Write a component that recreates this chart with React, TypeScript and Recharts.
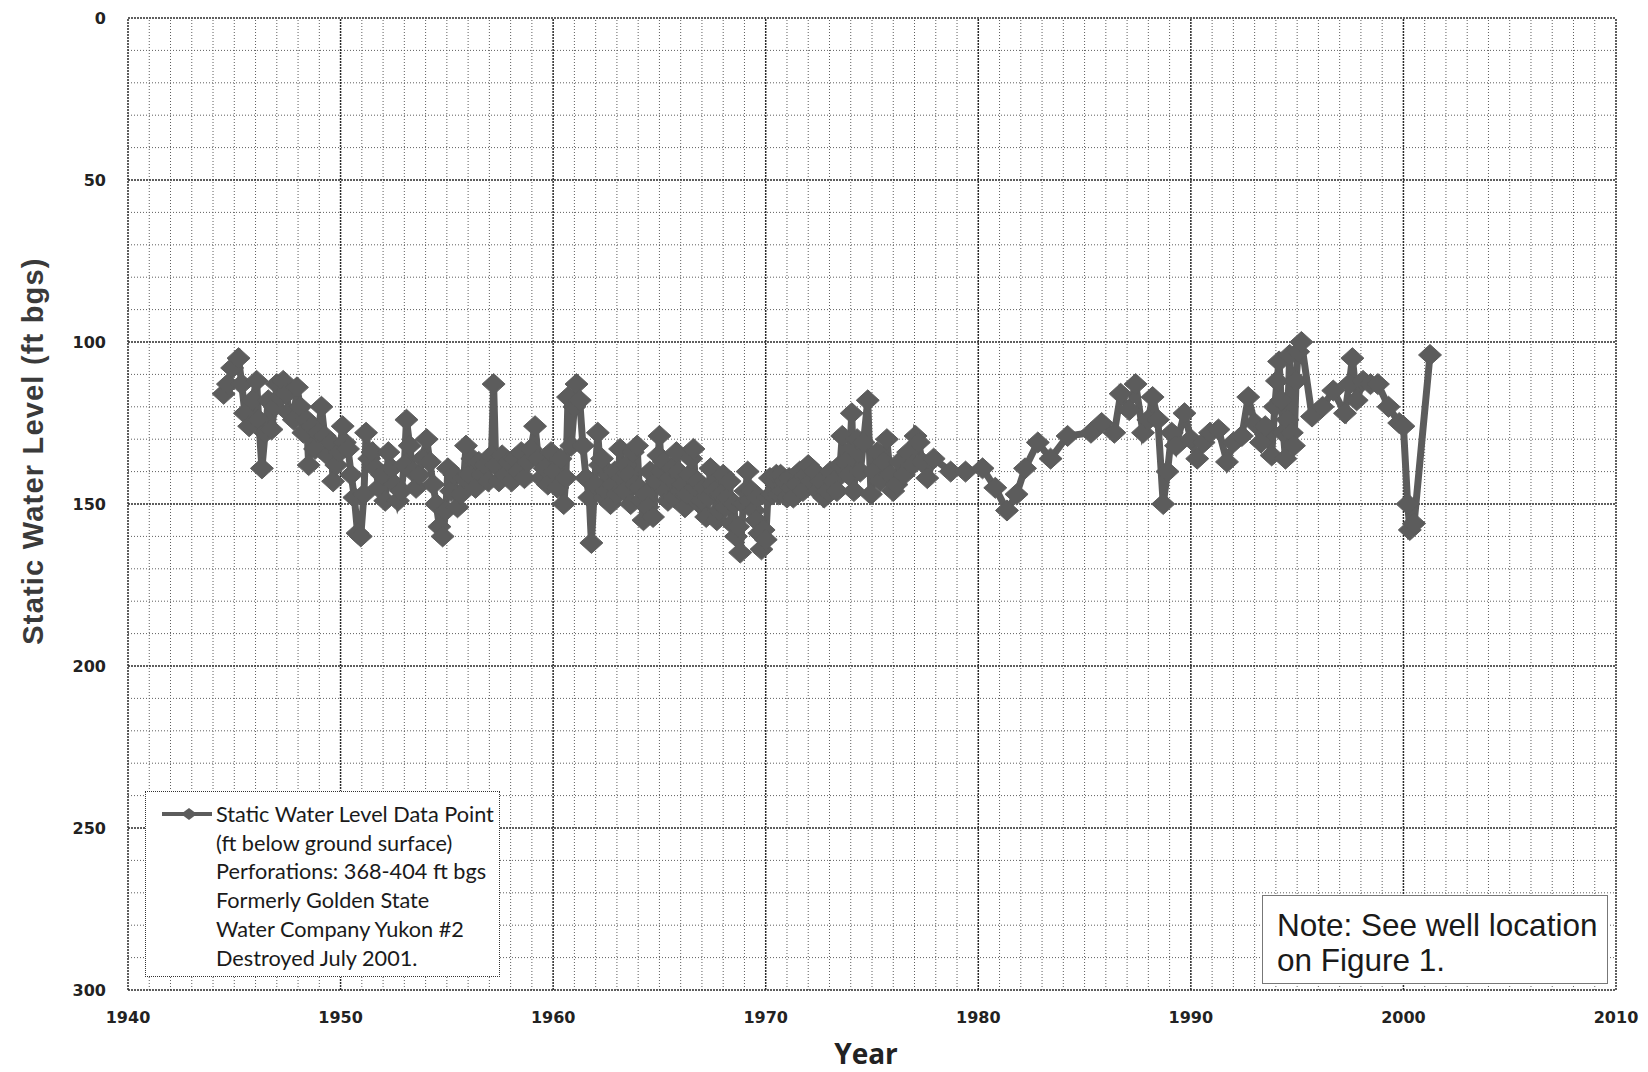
import React from 'react';
import { LineChart, Line, XAxis, YAxis, ReferenceLine } from 'recharts';

// [year, static water level (ft bgs)]
const obs1940s: [number, number][] = [
  [1944.5, 116], [1944.7, 113], [1944.9, 108], [1945.2, 105], [1945.35, 113], [1945.5, 122], [1945.7, 126], [1945.85, 118],
  [1946.05, 112], [1946.15, 124], [1946.3, 139], [1946.45, 128], [1946.6, 118], [1946.75, 127], [1946.9, 120], [1947.0, 113],
  [1947.15, 117], [1947.3, 112], [1947.45, 116], [1947.6, 122], [1947.8, 124], [1947.95, 114], [1948.1, 120], [1948.25, 128],
  [1948.4, 124], [1948.5, 138], [1948.65, 126], [1948.8, 133], [1948.95, 128], [1949.1, 120], [1949.25, 129], [1949.4, 135],
  [1949.55, 131], [1949.65, 143], [1949.8, 138], [1949.95, 134],
];

const obs1950s: [number, number][] = [
  [1950.1, 126], [1950.2, 131], [1950.35, 133], [1950.5, 141], [1950.65, 148], [1950.8, 159], [1950.95, 160], [1951.1, 147],
  [1951.2, 128], [1951.35, 136], [1951.5, 134], [1951.65, 139], [1951.8, 145], [1951.95, 141], [1952.1, 149], [1952.25, 134],
  [1952.4, 139], [1952.55, 144], [1952.7, 149], [1952.85, 146], [1953.0, 138], [1953.1, 124], [1953.25, 132], [1953.4, 140],
  [1953.55, 145], [1953.7, 141], [1953.85, 136], [1954.05, 130], [1954.2, 137], [1954.35, 144], [1954.5, 150], [1954.65, 157],
  [1954.8, 160], [1954.95, 152], [1955.05, 139], [1955.2, 146], [1955.35, 141], [1955.5, 151], [1955.65, 147], [1955.8, 142],
  [1955.9, 132], [1956.05, 141], [1956.2, 136], [1956.35, 145], [1956.5, 137], [1956.65, 141], [1956.8, 138], [1956.95, 143],
  [1957.1, 135], [1957.2, 113], [1957.3, 138], [1957.45, 143], [1957.6, 135], [1957.75, 141], [1957.9, 137], [1958.05, 143],
  [1958.2, 136], [1958.35, 140], [1958.5, 134], [1958.65, 142], [1958.8, 137], [1958.95, 133], [1959.15, 126], [1959.3, 136],
  [1959.45, 142], [1959.6, 139], [1959.75, 144], [1959.9, 134],
];

const obs1960s: [number, number][] = [
  [1960.05, 140], [1960.2, 145], [1960.35, 136], [1960.5, 150], [1960.6, 142], [1960.7, 117], [1960.85, 132], [1961.0, 120],
  [1961.1, 113], [1961.25, 118], [1961.4, 132], [1961.55, 142], [1961.7, 148], [1961.8, 162], [1961.95, 144], [1962.1, 128],
  [1962.2, 138], [1962.3, 136], [1962.4, 148], [1962.5, 146], [1962.6, 141], [1962.7, 150], [1962.8, 144], [1962.9, 140],
  [1963.0, 147], [1963.15, 133], [1963.25, 142], [1963.35, 146], [1963.45, 138], [1963.55, 141], [1963.65, 150], [1963.75, 134],
  [1963.85, 144], [1963.95, 132], [1964.05, 145], [1964.15, 149], [1964.25, 155], [1964.35, 147], [1964.45, 151], [1964.55, 140],
  [1964.7, 154], [1964.85, 143], [1964.95, 135], [1965.0, 129], [1965.1, 140], [1965.2, 137], [1965.3, 146], [1965.4, 149],
  [1965.5, 142], [1965.6, 139], [1965.7, 148], [1965.8, 134], [1965.9, 140], [1966.0, 146], [1966.1, 144], [1966.2, 151],
  [1966.3, 147], [1966.4, 141], [1966.5, 136], [1966.6, 133], [1966.7, 145], [1966.8, 143], [1966.9, 150], [1967.0, 149],
  [1967.1, 145], [1967.2, 154], [1967.3, 148], [1967.4, 139], [1967.5, 144], [1967.6, 146], [1967.7, 155], [1967.8, 152],
  [1967.9, 147], [1968.0, 141], [1968.1, 151], [1968.2, 148], [1968.3, 143], [1968.4, 156], [1968.5, 150], [1968.6, 160],
  [1968.7, 157], [1968.8, 165], [1968.95, 150], [1969.05, 146], [1969.15, 140], [1969.25, 149], [1969.35, 146], [1969.45, 152],
  [1969.55, 155], [1969.6, 148], [1969.7, 159], [1969.8, 164], [1969.9, 158],
];

const obs1970s: [number, number][] = [
  [1970.0, 161], [1970.1, 148], [1970.2, 142], [1970.3, 147], [1970.4, 143], [1970.5, 141], [1970.6, 147], [1970.7, 141],
  [1970.8, 146], [1970.9, 143], [1971.0, 148], [1971.1, 142], [1971.2, 145], [1971.3, 148], [1971.45, 144], [1971.6, 140],
  [1971.75, 146], [1971.9, 141], [1972.0, 138], [1972.15, 143], [1972.3, 140], [1972.45, 146], [1972.6, 143], [1972.75, 148],
  [1972.9, 146], [1973.05, 140], [1973.2, 143], [1973.35, 146], [1973.5, 138], [1973.6, 129], [1973.75, 137], [1973.9, 141],
  [1974.05, 122], [1974.15, 146], [1974.3, 130], [1974.45, 140], [1974.6, 131], [1974.8, 118], [1974.95, 147], [1975.1, 140],
  [1975.25, 134], [1975.4, 143], [1975.55, 137], [1975.7, 130], [1975.85, 141], [1976.0, 146], [1976.15, 144], [1976.3, 137],
  [1976.5, 141], [1976.7, 134], [1976.9, 138], [1977.05, 129], [1977.2, 131], [1977.35, 137], [1977.6, 142], [1977.9, 136],
  [1978.7, 140], [1979.4, 140],
];

const obs1980s: [number, number][] = [
  [1980.2, 139], [1980.8, 145], [1981.35, 152], [1981.8, 147], [1982.2, 139], [1982.8, 131], [1983.4, 136], [1984.2, 129],
  [1985.3, 128], [1985.8, 125], [1986.4, 128], [1986.7, 116], [1987.1, 121], [1987.4, 113], [1987.75, 128], [1988.0, 124],
  [1988.2, 117], [1988.45, 124], [1988.7, 150], [1988.9, 140], [1989.1, 128], [1989.3, 132], [1989.7, 122],
];

const obs1990s: [number, number][] = [
  [1990.0, 130], [1990.3, 136], [1990.6, 131], [1990.9, 128], [1991.3, 127], [1991.7, 137], [1992.0, 131], [1992.4, 129],
  [1992.7, 117], [1993.0, 125], [1993.3, 131], [1993.5, 126], [1993.8, 135], [1993.95, 120], [1994.05, 112], [1994.15, 106],
  [1994.25, 118], [1994.35, 128], [1994.45, 136], [1994.55, 124], [1994.65, 104], [1994.75, 128], [1994.85, 132], [1994.95, 112],
  [1995.05, 103], [1995.2, 100], [1995.7, 123], [1996.2, 120], [1996.7, 115], [1997.25, 122], [1997.45, 113], [1997.6, 105],
  [1997.8, 118], [1998.1, 112], [1998.45, 113], [1998.8, 113], [1999.3, 120], [1999.8, 125],
];

const obs2000s: [number, number][] = [
  [2000.0, 126], [2000.2, 150], [2000.3, 158], [2000.5, 156], [2001.25, 104],
];

const xTicks: number[] = [1940, 1950, 1960, 1970, 1980, 1990, 2000, 2010];
const yTicks: number[] = [0, 50, 100, 150, 200, 250, 300];
const minorYears: number[] = Array.from({ length: 71 }, (_, i) => 1940 + i).filter((y) => y % 10 !== 0);
const minorLevels: number[] = Array.from({ length: 31 }, (_, i) => i * 10).filter((v) => v % 50 !== 0);

const legendLines: string[] = [
  'Static Water Level Data Point',
  '(ft below ground surface)',
  'Perforations: 368-404 ft bgs',
  'Formerly Golden State',
  'Water Company Yukon #2',
  'Destroyed July 2001.',
];
const noteLines: string[] = ['Note: See well location', 'on Figure 1.'];

const data = [...obs1940s, ...obs1950s, ...obs1960s, ...obs1970s, ...obs1980s, ...obs1990s, ...obs2000s].map(
  ([year, level]) => ({ year, level })
);

const SERIES_COLOR = '#5c5c5c';

const Diamond = (props: any) => {
  const { cx, cy, index } = props;
  if (cx == null || cy == null) return <g key={`d-${index}`} />;
  const w = 11.5;
  const h = 10.5;
  return (
    <path
      key={`d-${index}`}
      d={`M${cx - w},${cy} L${cx},${cy - h} L${cx + w},${cy} L${cx},${cy + h} Z`}
      fill={SERIES_COLOR}
      stroke={SERIES_COLOR}
      strokeWidth={1}
    />
  );
};

const tickStyle = { fontFamily: 'DejaVu Sans', fontWeight: 700, fontSize: 16, fill: '#222' };

export default function App() {
  return (
    <div style={{ position: 'relative', width: 1640, height: 1064, background: '#fff' }}>
      <LineChart
        width={1640}
        height={1064}
        data={data}
        margin={{ top: 10, right: 32, left: 0, bottom: 0 }}
      >
        <XAxis
          type="number"
          dataKey="year"
          domain={[1940, 2010]}
          ticks={xTicks}
          allowDataOverflow
          height={82}
          tickSize={0}
          tickMargin={22}
          axisLine={false}
          tickLine={false}
          tick={tickStyle}
          interval={0}
        />
        <YAxis
          type="number"
          dataKey="level"
          domain={[0, 300]}
          ticks={yTicks}
          reversed
          allowDataOverflow
          width={120}
          tickSize={0}
          tickMargin={22}
          axisLine={false}
          tickLine={false}
          tick={tickStyle}
          interval={0}
        />
        {minorYears.map((y) => (
          <ReferenceLine key={`mx-${y}`} x={y} stroke="#5e5e5e" strokeWidth={1} strokeDasharray="1 2" ifOverflow="extendDomain" />
        ))}
        {minorLevels.map((v) => (
          <ReferenceLine key={`my-${v}`} y={v} stroke="#5e5e5e" strokeWidth={1} strokeDasharray="1 2" ifOverflow="extendDomain" />
        ))}
        {xTicks.map((y) => (
          <ReferenceLine key={`MX-${y}`} x={y} stroke="#2a2a2a" strokeWidth={1.5} strokeDasharray="2 1" ifOverflow="extendDomain" />
        ))}
        {yTicks.map((v) => (
          <ReferenceLine key={`MY-${v}`} y={v} stroke="#2a2a2a" strokeWidth={1.5} strokeDasharray="2 1" ifOverflow="extendDomain" />
        ))}
        <Line
          type="linear"
          dataKey="level"
          stroke={SERIES_COLOR}
          strokeWidth={7}
          dot={Diamond}
          activeDot={false}
          isAnimationActive={false}
        />
      </LineChart>

      <div
        style={{
          position: 'absolute',
          left: 25,
          top: 443,
          transform: 'translate(-50%, -50%) rotate(-90deg)',
          whiteSpace: 'nowrap',
          fontFamily: 'Liberation Sans, Arial, sans-serif',
          fontWeight: 700,
          fontSize: 29,
          letterSpacing: 1.2,
          color: '#3a3a3a',
        }}
      >
        Static Water Level (ft bgs)
      </div>

      <div
        style={{
          position: 'absolute',
          left: 858,
          top: 1045,
          transform: 'translate(-50%, -50%)',
          whiteSpace: 'nowrap',
          fontFamily: 'Open Sans, sans-serif',
          fontWeight: 700,
          fontSize: 28,
          color: '#222',
        }}
      >
        Year
      </div>

      <div
        style={{
          position: 'absolute',
          left: 137,
          top: 783,
          width: 355,
          height: 186,
          boxSizing: 'border-box',
          border: '1.5px dotted #333',
          background: '#fff',
          paddingLeft: 70,
          paddingTop: 8,
          fontFamily: 'Lato, sans-serif',
          fontSize: 21.7,
          lineHeight: '28.7px',
          color: '#1a1a1a',
          whiteSpace: 'nowrap',
        }}
      >
        <svg width={60} height={20} style={{ position: 'absolute', left: 14, top: 12 }}>
          <line x1={2} y1={10} x2={52} y2={10} stroke={SERIES_COLOR} strokeWidth={4} />
          <path d="M21,10 L29,4 L37,10 L29,16 Z" fill={SERIES_COLOR} />
        </svg>
        {legendLines.map((t) => (
          <div key={t}>{t}</div>
        ))}
      </div>

      <div
        style={{
          position: 'absolute',
          left: 1254,
          top: 887,
          width: 346,
          height: 89,
          boxSizing: 'border-box',
          border: '1px solid #777',
          background: '#fff',
          paddingLeft: 14,
          paddingTop: 12,
          fontFamily: 'Liberation Sans, Arial, sans-serif',
          fontSize: 31.5,
          lineHeight: '35px',
          color: '#1a1a1a',
          whiteSpace: 'nowrap',
        }}
      >
        {noteLines.map((t) => (
          <div key={t}>{t}</div>
        ))}
      </div>
    </div>
  );
}
